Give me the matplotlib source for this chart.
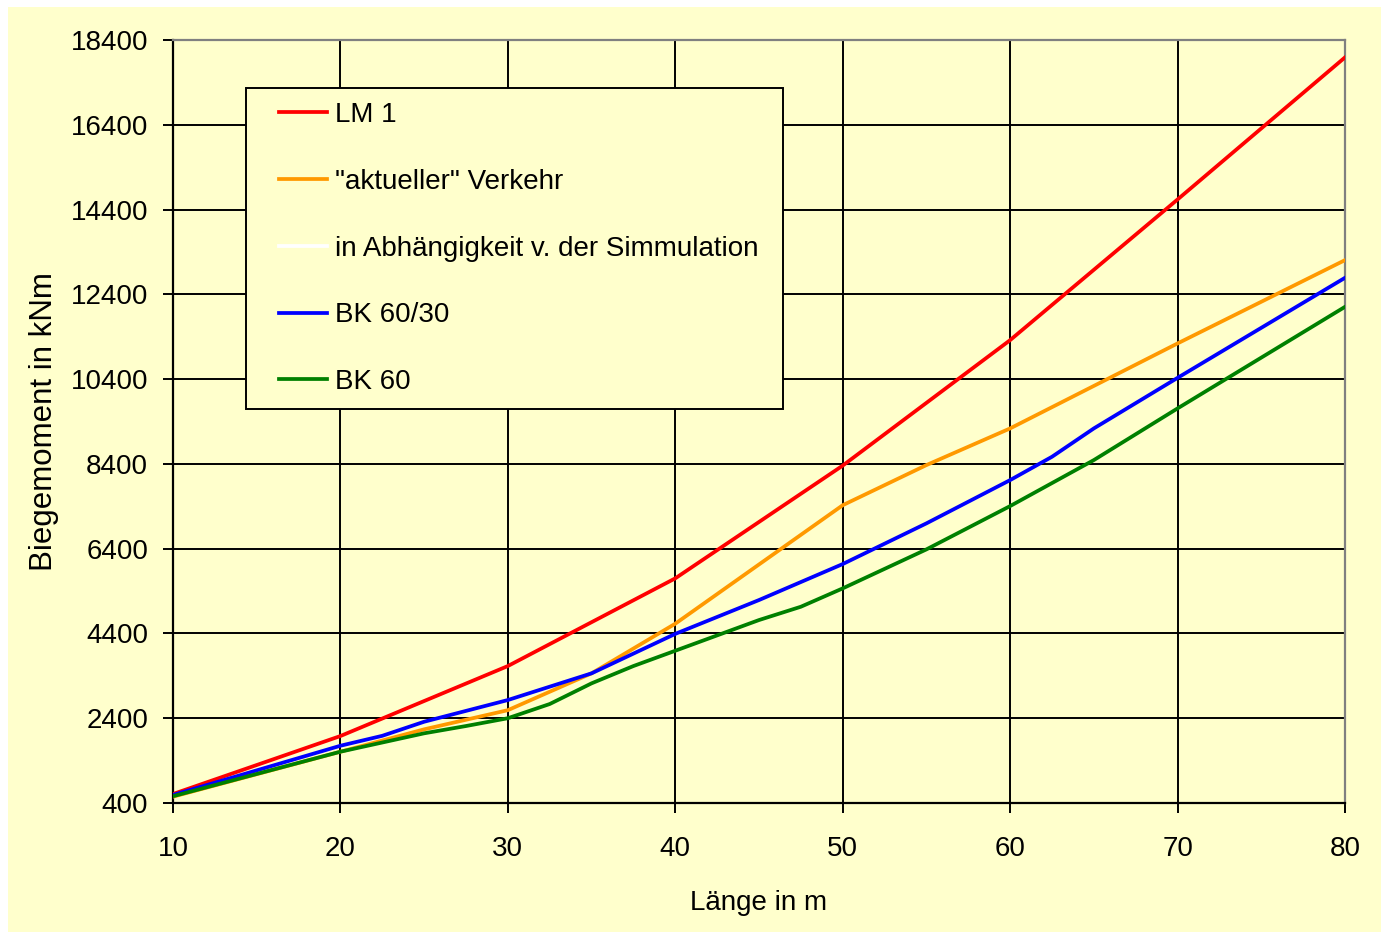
import matplotlib
matplotlib.use("Agg")
import numpy as np
import matplotlib.pyplot as plt
from matplotlib.patches import Rectangle
from matplotlib.legend_handler import HandlerLine2D

plt.rcParams['font.family'] = ['Liberation Sans', 'DejaVu Sans']

# Data (Länge in m, Biegemoment in kNm)
lm1_x = [10, 20, 30, 40, 50, 60, 70, 80]
lm1_y = [612, 1980, 3631, 5700, 8360, 11320, 14638, 17990]

akt_x = [10, 20, 25, 30, 35, 40, 50, 55, 60, 70, 80]
akt_y = [549, 1610, 2138, 2590, 3459, 4630, 7425, 8372, 9237, 11242, 13207]

bk6030_x = [10, 20, 22.5, 25, 30, 35, 40, 45, 50, 55, 60, 62.5, 65, 70, 80]
bk6030_y = [589, 1751, 1985, 2317, 2829, 3459, 4390, 5188, 6037, 6997, 8018, 8568, 9237, 10430, 12790]

bk60_x = [10, 20, 25, 27.5, 30, 32.5, 35, 37.5, 40, 45, 47.5, 50, 55, 60, 65, 70, 80]
bk60_y = [560, 1610, 2044, 2216, 2400, 2735, 3223, 3631, 3992, 4716, 5030, 5463, 6383, 7405, 8490, 9709, 12105]

labels = ['LM 1', '"aktueller" Verkehr', 'in Abhängigkeit v. der Simmulation', 'BK 60/30', 'BK 60']
colors = ['#FF0000', '#FF9900', '#FFFFFF', '#0000FF', '#008000']

x_ticks = [10, 20, 30, 40, 50, 60, 70, 80]
y_ticks = [400, 2400, 4400, 6400, 8400, 10400, 12400, 14400, 16400, 18400]


class OffsetLineHandler(HandlerLine2D):
    """Draws the legend line only in the right part of the handle box."""
    def __init__(self, offset_px, **kw):
        super().__init__(**kw)
        self.offset_px = offset_px

    def get_xdata(self, legend, xdescent, ydescent, width, height, fontsize):
        xd = np.array([-xdescent + self.offset_px, -xdescent + width])
        return xd, xd


W, H = 1381, 933
fig = plt.figure(figsize=(W / 100, H / 100), dpi=100, facecolor='white')
fig.patches.append(Rectangle((8 / W, 1 / H), 1 - 8 / W, (932 - 7) / H, transform=fig.transFigure,
                             facecolor='#FFFFCC', edgecolor='none', zorder=-10))

ax = fig.add_axes([173 / W, 1 - 803 / H, (1345 - 173) / W, (803 - 40) / H])
ax.set_facecolor('#FFFFCC')

lw = 2.7
ax.plot(lm1_x, lm1_y, color=colors[0], lw=lw, label=labels[0], zorder=3)
ax.plot(akt_x, akt_y, color=colors[1], lw=lw, label=labels[1], zorder=3)
ax.plot([], [], color=colors[2], lw=lw, label=labels[2])
ax.plot(bk6030_x, bk6030_y, color=colors[3], lw=lw, label=labels[3], zorder=4)
ax.plot(bk60_x, bk60_y, color=colors[4], lw=lw, label=labels[4], zorder=5)

ax.set_xlim(10, 80)
ax.set_ylim(400, 18400)
ax.set_xticks(x_ticks)
ax.set_yticks(y_ticks)
ax.grid(True, color='black', lw=1.4, zorder=1)
ax.set_axisbelow(True)

for s in ['left', 'bottom']:
    ax.spines[s].set_color('black')
    ax.spines[s].set_linewidth(1.6)
for s in ['top', 'right']:
    ax.spines[s].set_color('#808080')
    ax.spines[s].set_linewidth(1.6)

ax.tick_params(axis='both', direction='out', length=7, width=1.4, colors='black', labelsize=20)
ax.tick_params(axis='x', pad=17)
ax.tick_params(axis='y', pad=11)

ax.set_xlabel('Länge in m', fontsize=20, labelpad=20)
ax.set_ylabel('Biegemoment in kNm', fontsize=22.5, labelpad=8)

# legend box (frame drawn explicitly in figure pixels)
lx0, ly0, lx1, ly1 = 246, 88, 783, 409
ax.add_patch(Rectangle((lx0 / W, 1 - ly1 / H), (lx1 - lx0) / W, (ly1 - ly0) / H,
                       transform=fig.transFigure, facecolor='#FFFFCC',
                       edgecolor='black', lw=1.4, zorder=9, clip_on=False))

fs = 20
fs_px = fs * 100 / 72
leg = ax.legend(loc='upper left', bbox_to_anchor=((246 - 173) / 1172, (803 - 88) / 763),
                borderaxespad=0, fontsize=fs, frameon=False,
                handlelength=67 / fs_px, handletextpad=8 / fs_px, labelspacing=1.47,
                borderpad=0.5,
                handler_map={plt.Line2D: OffsetLineHandler(14)})
leg.set_zorder(10)

fig.savefig('out.png', dpi=100, facecolor='white')
